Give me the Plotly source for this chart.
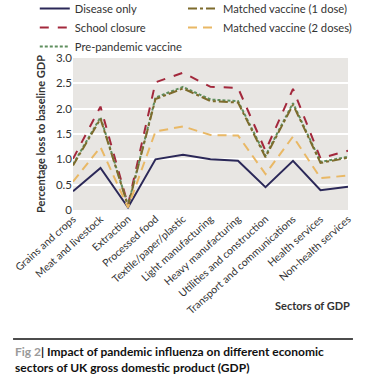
import plotly.graph_objects as go

sectors = ["Grains and crops", "Meat and livestock", "Extraction", "Processed food",
           "Textile/paper/plastic", "Light manufacturing", "Heavy manufacturing",
           "Utilities and construction", "Transport and communications",
           "Health services", "Non-health services"]

disease_only = [0.37, 0.83, 0.05, 1.00, 1.09, 1.00, 0.97, 0.45, 0.97, 0.39, 0.46]
school_closure = [1.01, 2.04, 0.10, 2.52, 2.71, 2.43, 2.41, 1.17, 2.39, 1.02, 1.17]
matched_1dose = [0.88, 1.80, 0.08, 2.19, 2.40, 2.15, 2.12, 1.04, 2.08, 0.93, 1.03]
matched_2doses = [0.56, 1.24, 0.05, 1.55, 1.65, 1.48, 1.47, 0.71, 1.45, 0.63, 0.68]
prepandemic = [0.90, 1.83, 0.09, 2.22, 2.43, 2.18, 2.15, 1.07, 2.11, 0.95, 1.05]

ytickvals = [0, 0.5, 1.0, 1.5, 2.0, 2.5, 3.0]
yticktext = ["0", "0.5", "1.0", "1.5", "2.0", "2.5", "3.0"]

FONT = "Lato"
x = list(range(len(sectors)))

fig = go.Figure()
fig.add_trace(go.Scatter(x=x, y=disease_only, name="Disease only", mode="lines",
                         line=dict(color="#2b2858", width=2), legend="legend"))
fig.add_trace(go.Scatter(x=x, y=school_closure, name="School closure", mode="lines",
                         line=dict(color="#a3283c", width=2, dash="dash"), legend="legend"))
fig.add_trace(go.Scatter(x=x, y=prepandemic, name="Pre-pandemic vaccine", mode="lines",
                         line=dict(color="#5f8f5e", width=2, dash="3px,2px"), legend="legend"))
fig.add_trace(go.Scatter(x=x, y=matched_1dose, name="Matched vaccine (1 dose)", mode="lines",
                         line=dict(color="#7d6b2c", width=2, dash="dashdot"), legend="legend2"))
fig.add_trace(go.Scatter(x=x, y=matched_2doses, name="Matched vaccine (2 doses)", mode="lines",
                         line=dict(color="#e9b865", width=2, dash="9px,6px"), legend="legend2"))

legfont = dict(family=FONT, size=11.2, color="#333333")
fig.update_layout(
    width=366, height=386,
    margin=dict(l=73, r=18, t=58, b=176, autoexpand=False),
    paper_bgcolor="white",
    plot_bgcolor="#e8e6e3",
    font=dict(family=FONT, size=11, color="#333333"),
    showlegend=True,
    legend=dict(x=-0.139, y=1.421, xanchor="left", yanchor="top", traceorder="normal",
                font=legfont, bgcolor="rgba(0,0,0,0)", tracegroupgap=0),
    legend2=dict(x=0.40, y=1.421, xanchor="left", yanchor="top", traceorder="normal",
                 font=legfont, bgcolor="rgba(0,0,0,0)", tracegroupgap=0),
    xaxis=dict(tickmode="array", tickvals=x, ticktext=sectors, tickangle=-42,
               range=[0, 10], showgrid=False, zeroline=False, showline=False,
               ticks="", tickfont=dict(family=FONT, size=10.5, color="#333333")),
    yaxis=dict(tickmode="array", tickvals=ytickvals, ticktext=yticktext,
               range=[0, 3.0], showgrid=True, gridcolor="white", gridwidth=1.5,
               zeroline=False, showline=False, ticks="",
               tickfont=dict(family=FONT, size=11.5, color="#333333"),
               title=dict(text="<b>Percentage loss to baseline GDP</b>",
                          font=dict(family=FONT, size=11, color="#333333"), standoff=8)),
)

fig.add_annotation(text="<b>Sectors of GDP</b>", xref="paper", yref="paper",
                   x=1.015, y=-0.625, xanchor="right", yanchor="middle", showarrow=False,
                   font=dict(family=FONT, size=11, color="#333333"))

fig.add_shape(type="line", xref="paper", yref="paper", x0=-0.218, x1=1.018,
              y0=-0.849, y1=-0.849, line=dict(color="#111111", width=1.5))

fig.add_annotation(
    text="<span style='color:#9a9a9a'><b>Fig 2</b></span><b>| Impact of pandemic influenza on different economic"
         "<br>sectors of UK gross domestic product (GDP)</b>",
    xref="paper", yref="paper", x=-0.22, y=-0.87, xanchor="left", yanchor="top",
    align="left", showarrow=False,
    font=dict(family=FONT, size=12, color="#111111"))

fig.write_html("out.html", config={"displayModeBar": False},
               post_script="document.body.style.margin='0';")
